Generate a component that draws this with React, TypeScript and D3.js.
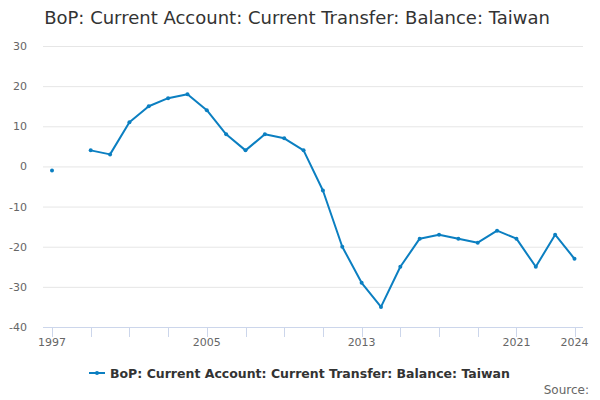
import * as d3 from "d3";

const years: number[] = [
  1997, 1998, 1999, 2000, 2001, 2002, 2003, 2004, 2005, 2006, 2007, 2008, 2009, 2010,
  2011, 2012, 2013, 2014, 2015, 2016, 2017, 2018, 2019, 2020, 2021, 2022, 2023, 2024,
];
const balance: (number | null)[] = [
  -1, null, 4, 3, 11, 15, 17, 18, 14, 8, 4, 8, 7, 4,
  -6, -20, -29, -35, -25, -18, -17, -18, -19, -16, -18, -25, -17, -23,
];
const yTicks: number[] = [30, 20, 10, 0, -10, -20, -30, -40];
const xTicks: number[] = [1997, 1999, 2001, 2003, 2005, 2007, 2009, 2011, 2013, 2015, 2017, 2019, 2021, 2024];
const xLabels: number[] = [1997, 2005, 2013, 2021, 2024];

const title = "BoP: Current Account: Current Transfer: Balance: Taiwan";
const seriesName = "BoP: Current Account: Current Transfer: Balance: Taiwan";
const lineColor = "#0b7fc1";
const font = "'DejaVu Sans', sans-serif";

interface Point {
  year: number;
  value: number | null;
}

export default function App() {
  const width = 600;
  const height = 400;
  const plotLeft = 43;
  const plotRight = 583;
  const plotTop = 46;
  const plotBottom = 327;

  const data: Point[] = years.map((year, i) => ({ year, value: balance[i] }));

  const x = d3.scaleLinear().domain([1997, 2024]).range([52, 574.5]);
  const y = d3.scaleLinear().domain([-40, 30]).range([plotBottom, plotTop]);

  const line = d3
    .line<Point>()
    .defined((d) => d.value !== null)
    .x((d) => x(d.year))
    .y((d) => y(d.value as number));

  return (
    <svg
      width={width}
      height={height}
      style={{ position: "absolute", left: 0, top: 0, fontFamily: font }}
    >
      <rect width={width} height={height} fill="#fff" />
      <text x={297} y={24} textAnchor="middle" fontSize={18} fill="#333">
        {title}
      </text>

      {yTicks.map((t) => (
        <g key={t}>
          {t !== -40 && (
            <line x1={plotLeft} x2={plotRight} y1={y(t) + 0.5} y2={y(t) + 0.5} stroke="#e6e6e6" />
          )}
          <text x={27} y={y(t) + 4} textAnchor="end" fontSize={11} fill="#666">
            {t}
          </text>
        </g>
      ))}

      <line x1={plotLeft} x2={plotRight} y1={plotBottom + 0.5} y2={plotBottom + 0.5} stroke="#ccd6eb" />
      {xTicks.map((t) => (
        <line
          key={t}
          x1={Math.round(x(t)) + 0.5}
          x2={Math.round(x(t)) + 0.5}
          y1={plotBottom}
          y2={plotBottom + 10}
          stroke="#ccd6eb"
        />
      ))}
      {xLabels.map((t) => (
        <text key={t} x={x(t)} y={plotBottom + 19} textAnchor="middle" fontSize={11} fill="#666">
          {t}
        </text>
      ))}

      <path d={line(data) ?? ""} fill="none" stroke={lineColor} strokeWidth={2} strokeLinejoin="round" />
      {data
        .filter((d) => d.value !== null)
        .map((d) => (
          <circle key={d.year} cx={x(d.year)} cy={y(d.value as number)} r={2} fill={lineColor} />
        ))}

      <g transform="translate(89,373)">
        <line x1={0} x2={16} y1={0} y2={0} stroke={lineColor} strokeWidth={2} />
        <circle cx={8} cy={0} r={2} fill={lineColor} />
        <text x={21} y={4.5} fontSize={12.5} fontWeight="bold" fill="#333">
          {seriesName}
        </text>
      </g>

      <text x={589} y={394} textAnchor="end" fontSize={12} fill="#666">
        Source:
      </text>
    </svg>
  );
}
